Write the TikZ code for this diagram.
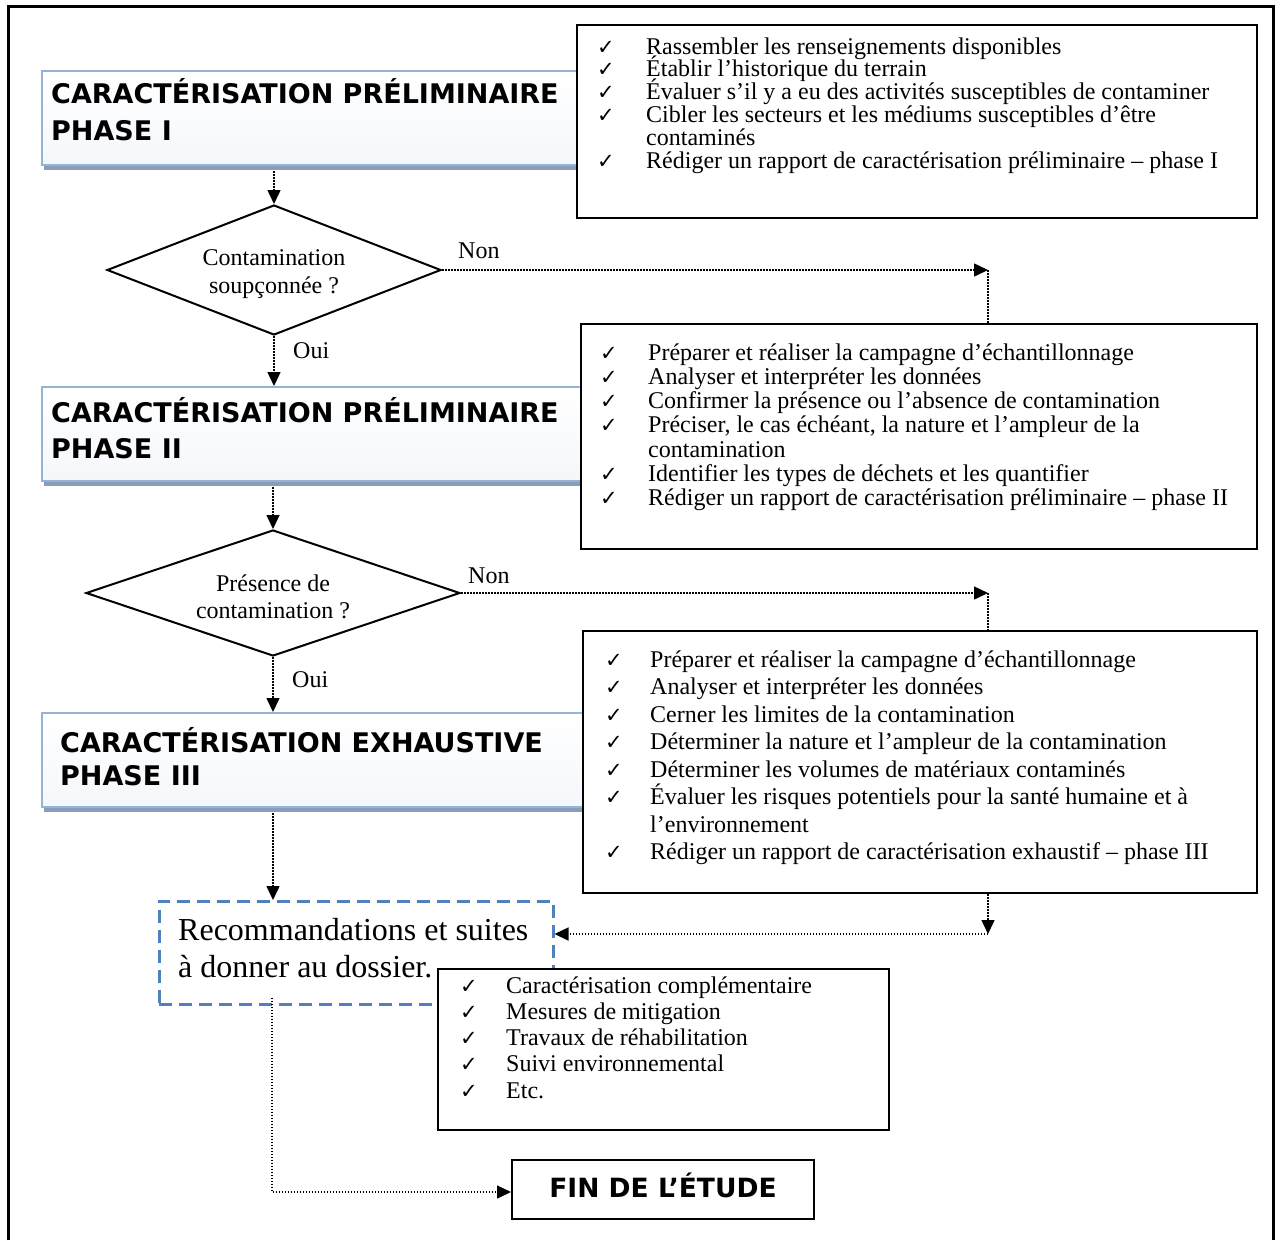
\documentclass[tikz,border=0pt]{standalone}
\usepackage{fontspec}
\setmainfont{Liberation Serif}
\newfontfamily\vsans{DejaVu Sans}
\newfontfamily\symf{DejaVu Sans}
\usepackage{array}
\usetikzlibrary{arrows.meta,shapes.geometric,calc,shadows}
\definecolor{phaseline}{HTML}{95B3D7}
\definecolor{phaseshadow}{HTML}{8A9CB8}
\definecolor{recblue}{HTML}{4F81BD}
\newcommand{\ck}{\smash{\symf\fontsize{21}{21}\selectfont ✓}}
\newcolumntype{L}{>{\setbox0=\hbox\bgroup}l<{\egroup\ht0=0pt \dp0=0pt \box0}}
\begin{document}
\begin{tikzpicture}[x=1pt,y=-1pt,
  phasebox/.style={draw=phaseline, line width=2pt, top color=white, bottom color=phaseline!10, anchor=north west, inner sep=0pt, minimum width=549pt, minimum height=94pt, drop shadow={shadow xshift=2pt, shadow yshift=-5pt, fill=phaseshadow, opacity=1}},
  phasetext/.style={anchor=base west, inner sep=0pt, font=\vsans\bfseries\fontsize{27}{37}\selectfont},
  listbox/.style={draw, line width=2pt, fill=white, anchor=north west, inner sep=0pt},
  listtext/.style={anchor=base west, inner sep=0pt},
  decision/.style={diamond, aspect=2.8, draw, line width=2pt, fill=white, inner sep=0pt},
  dtext/.style={inner sep=0pt, align=center, font=\fontsize{24}{27.5}\selectfont},
  lbl/.style={anchor=base west, inner sep=0pt, font=\fontsize{24}{28}\selectfont},
  conn/.style={line width=1.5pt, dash pattern=on 1.5pt off 1.5pt},
  arr/.style={conn, -{Triangle[length=14pt,width=13pt]}},
  recbox/.style={draw=recblue, line width=2.5pt, dash pattern=on 13pt off 7pt, anchor=north west, inner sep=0pt, minimum width=394pt, minimum height=103pt},
  finbox/.style={draw, line width=2pt, fill=white, minimum width=302pt, minimum height=59pt, text height=19pt, text depth=3pt, inner sep=0pt, font=\vsans\bfseries\fontsize{26.5}{30}\selectfont}
]
\useasboundingbox (0,0) rectangle (1280,1240);
\fill[white] (0,0) rectangle (1280,1240);
% outer frame (open at the bottom)
\draw[line width=3pt] (8.5,1240) -- (8.5,6) -- (1273.5,6) -- (1273.5,1240);

% phase boxes
\node[phasebox] (p1) at (41,70) {};
\node[phasebox] (p2) at (41,386) {};
\node[phasebox] (p3) at (41,712) {};
\node[phasetext] (p1t) at (51,103) {\begin{tabular}[t]{@{}l@{}}CARACTÉRISATION PRÉLIMINAIRE\\PHASE I\end{tabular}};
\node[phasetext, font=\vsans\bfseries\fontsize{27}{36}\selectfont] (p2t) at (51,422) {\begin{tabular}[t]{@{}l@{}}CARACTÉRISATION PRÉLIMINAIRE\\PHASE II\end{tabular}};
\node[phasetext, font=\vsans\bfseries\fontsize{27}{33}\selectfont] (p3t) at (60,752) {\begin{tabular}[t]{@{}l@{}}CARACTÉRISATION EXHAUSTIVE\\PHASE III\end{tabular}};

% list boxes
\node[listbox, minimum width=680pt, minimum height=193pt] (b1) at (576,24) {};
\node[listtext] (b1t) at (597,54) {\fontsize{24}{22.8}\selectfont
\begin{tabular}[t]{@{}p{49pt}@{}L@{}}
\ck & Rassembler les renseignements disponibles\\
\ck & Établir l’historique du terrain\\
\ck & Évaluer s’il y a eu des activités susceptibles de contaminer\\
\ck & Cibler les secteurs et les médiums susceptibles d’être\\
    & contaminés\\
\ck & Rédiger un rapport de caractérisation préliminaire – phase I
\end{tabular}};

\node[listbox, minimum width=676pt, minimum height=225pt] (b2) at (580,323) {};
\node[listtext] (b2t) at (600,360) {\fontsize{24}{24.3}\selectfont
\begin{tabular}[t]{@{}p{48pt}@{}L@{}}
\ck & Préparer et réaliser la campagne d’échantillonnage\\
\ck & Analyser et interpréter les données\\
\ck & Confirmer la présence ou l’absence de contamination\\
\ck & Préciser, le cas échéant, la nature et l’ampleur de la\\
    & contamination\\
\ck & Identifier les types de déchets et les quantifier\\
\ck & Rédiger un rapport de caractérisation préliminaire – phase II
\end{tabular}};

\node[listbox, minimum width=674pt, minimum height=262pt] (b3) at (582,630) {};
\node[listtext] (b3t) at (605,667) {\fontsize{24}{27.5}\selectfont
\begin{tabular}[t]{@{}p{45pt}@{}L@{}}
\ck & Préparer et réaliser la campagne d’échantillonnage\\
\ck & Analyser et interpréter les données\\
\ck & Cerner les limites de la contamination\\
\ck & Déterminer la nature et l’ampleur de la contamination\\
\ck & Déterminer les volumes de matériaux contaminés\\
\ck & Évaluer les risques potentiels pour la santé humaine et à\\
    & l’environnement\\
\ck & Rédiger un rapport de caractérisation exhaustif – phase III
\end{tabular}};

% recommendations box
\node[recbox] (rec) at (158,900) {};
\node[listtext, font=\fontsize{32}{37}\selectfont] (rect) at (178,940) {\begin{tabular}[t]{@{}l@{}}Recommandations et suites\\à donner au dossier.\end{tabular}};

\node[listbox, minimum width=451pt, minimum height=161pt] (b4) at (437,968) {};
\node[listtext] (b4t) at (460,993) {\fontsize{24}{26.3}\selectfont
\begin{tabular}[t]{@{}p{46pt}@{}L@{}}
\ck & Caractérisation complémentaire\\
\ck & Mesures de mitigation\\
\ck & Travaux de réhabilitation\\
\ck & Suivi environnemental\\
\ck & Etc.
\end{tabular}};

% decisions
\node[decision, minimum width=334pt, minimum height=130pt] (d1) at (274,270) {};
\node[dtext] (d1t) at (274,274) {Contamination\\soupçonnée ?};
\node[decision, minimum width=374pt, minimum height=126pt] (d2) at (273,593) {};
\node[dtext] (d2t) at (273,597) {Présence de\\contamination ?};

\node[lbl] (non1) at (458,258) {Non};
\node[lbl] (oui1) at (293,358) {Oui};
\node[lbl] (non2) at (468,583) {Non};
\node[lbl] (oui2) at (292,687) {Oui};

% end box
\node[finbox] (fin) at (663,1189.5) {FIN DE L’ÉTUDE};

% connectors
\coordinate (n1) at (988,270);
\coordinate (n2) at (988,593);
\coordinate (n3) at (988,934);
\coordinate (c9) at (272,1192);

\draw[arr] ($(d1.north |- p1.south)+(0,5)$) -- (d1.north);
\draw[arr] (d1.east) -- (n1);
\draw[conn] (n1) -- (n1 |- b2.north);
\draw[arr] (d1.south) -- (d1.south |- p2.north);
\draw[arr] ($(d2.north |- p2.south)+(0,5)$) -- (d2.north);
\draw[arr] (d2.east) -- (n2);
\draw[conn] (n2) -- (n2 |- b3.north);
\draw[arr] (d2.south) -- (d2.south |- p3.north);
\draw[arr] ($(d2.south |- p3.south)+(0,5)$) -- (d2.south |- rec.north);
\draw[arr] (n3 |- b3.south) -- (n3);
\draw[arr] (n3) -- (rec.east |- n3);
\draw[arr] ($(c9 |- rec.south)+(0,-8)$) -- (c9) -- (fin.west |- c9);
\end{tikzpicture}
\end{document}
